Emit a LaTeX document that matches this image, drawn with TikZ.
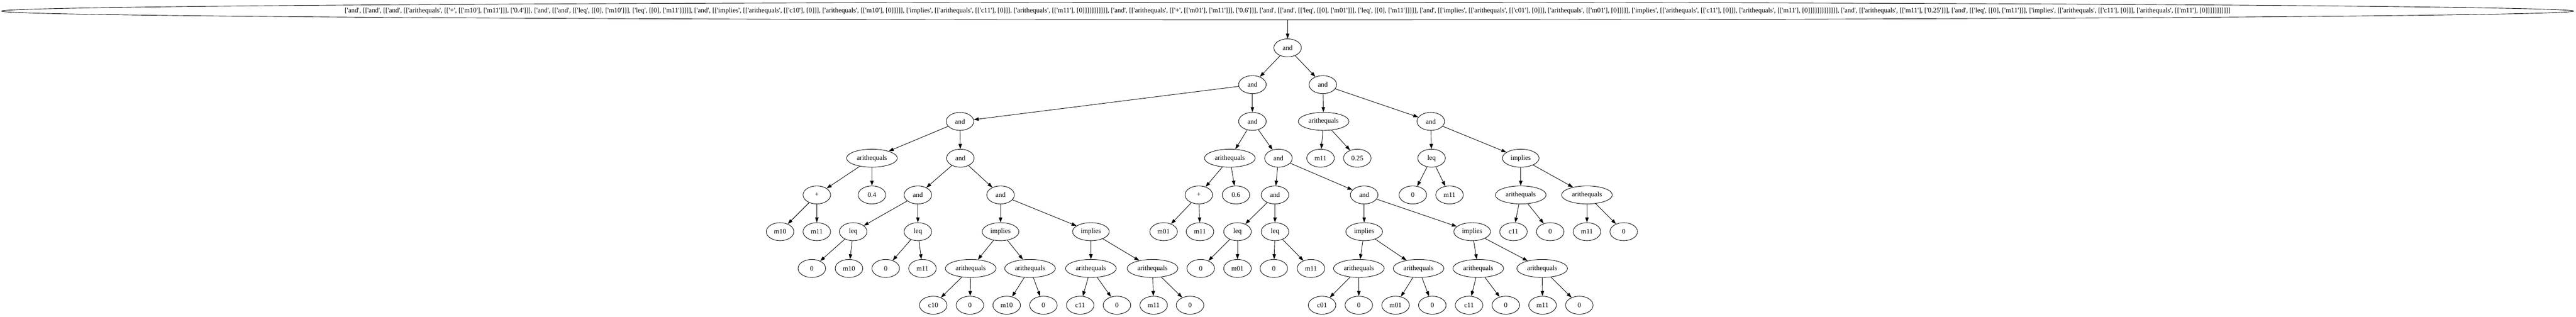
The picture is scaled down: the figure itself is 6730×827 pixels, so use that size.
\documentclass[tikz,border=0pt]{standalone}
\usepackage{fontspec}
\setmainfont{Liberation Serif}
\usetikzlibrary{shapes.geometric,arrows.meta}
\newcommand\q{\XeTeXglyph\XeTeXcharglyph"27\relax}
\newcommand\toptext{[\q and\q, [[\q and\q, [[\q and\q, [[\q arithequals\q, [[\q +\q, [[\q m10\q], [\q m11\q]]], [\q 0.4\q]]], [\q and\q, [[\q and\q, [[\q leq\q, [[0], [\q m10\q]]], [\q leq\q, [[0], [\q m11\q]]]]], [\q and\q, [[\q implies\q, [[\q arithequals\q, [[\q c10\q], [0]]], [\q arithequals\q, [[\q m10\q], [0]]]]], [\q implies\q, [[\q arithequals\q, [[\q c11\q], [0]]], [\q arithequals\q, [[\q m11\q], [0]]]]]]]]]]], [\q and\q, [[\q arithequals\q, [[\q +\q, [[\q m01\q], [\q m11\q]]], [\q 0.6\q]]], [\q and\q, [[\q and\q, [[\q leq\q, [[0], [\q m01\q]]], [\q leq\q, [[0], [\q m11\q]]]]], [\q and\q, [[\q implies\q, [[\q arithequals\q, [[\q c01\q], [0]]], [\q arithequals\q, [[\q m01\q], [0]]]]], [\q implies\q, [[\q arithequals\q, [[\q c11\q], [0]]], [\q arithequals\q, [[\q m11\q], [0]]]]]]]]]]]]], [\q and\q, [[\q arithequals\q, [[\q m11\q], [\q 0.25\q]]], [\q and\q, [[\q leq\q, [[0], [\q m11\q]]], [\q implies\q, [[\q arithequals\q, [[\q c11\q], [0]]], [\q arithequals\q, [[\q m11\q], [0]]]]]]]]]]]}
\begin{document}
\begin{tikzpicture}[x=1bp,y=-1bp,
  gv/.style={ellipse,draw,line width=1.2bp,minimum width=72bp,minimum height=47bp,
    inner xsep=7.5bp,inner ysep=2bp,font=\fontsize{18}{21}\selectfont},
  edge/.style={line width=1.2bp,-{Triangle[length=13bp,width=9bp]}}]
\useasboundingbox (0,0) rectangle (6730,827);
\fill[white] (0,0) rectangle (6730,827);
\node[ellipse,draw,line width=1.2bp,minimum width=6720bp,minimum height=46bp,inner sep=0pt,
  font=\fontsize{18}{21}\selectfont] (top) at (3364,29) {\makebox[0pt]{\toptext}};
% level 1-4
\node[gv] (r) at (3364,125) {and};
\node[gv] (l2a) at (3272,221) {and};
\node[gv] (l2b) at (3456,221) {and};
\node[gv] (l3a) at (2508,317) {and};
\node[gv] (l3b) at (3272,317) {and};
\node[gv] (l3c) at (3458,317) {arithequals};
\node[gv] (l3d) at (3738,317) {and};
\node[gv] (l4a) at (2278,413) {arithequals};
\node[gv] (l4b) at (2509,413) {and};
\node[gv] (l4c) at (3213,413) {arithequals};
\node[gv] (l4d) at (3340,413) {and};
\node[gv] (l4e) at (3450,413) {m11};
\node[gv] (l4f) at (3546,413) {0.25};
\node[gv] (l4g) at (3740,413) {leq};
\node[gv] (l4h) at (3973,413) {implies};
% level 5
\node[gv] (l5a) at (2134,509) {+};
\node[gv] (l5b) at (2278,509) {0.4};
\node[gv] (l5c) at (2398,509) {and};
\node[gv] (l5d) at (2614,509) {and};
\node[gv] (l5e) at (3132,509) {+};
\node[gv] (l5f) at (3229,509) {0.6};
\node[gv] (l5g) at (3331,509) {and};
\node[gv] (l5h) at (3564,509) {and};
\node[gv] (l5i) at (3691,509) {0};
\node[gv] (l5j) at (3787,509) {m11};
\node[gv] (l5k) at (3973,509) {arithequals};
\node[gv] (l5l) at (4146,509) {arithequals};
% level 6
\node[gv] (l6a) at (2038,605) {m10};
\node[gv] (l6b) at (2134,605) {m11};
\node[gv] (l6c) at (2229,605) {leq};
\node[gv] (l6d) at (2398,605) {leq};
\node[gv] (l6e) at (2614,605) {implies};
\node[gv] (l6f) at (2850,605) {implies};
\node[gv] (l6g) at (3040,605) {m01};
\node[gv] (l6h) at (3135,605) {m11};
\node[gv] (l6i) at (3233,605) {leq};
\node[gv] (l6j) at (3331,605) {leq};
\node[gv] (l6k) at (3564,605) {implies};
\node[gv] (l6l) at (3846,605) {implies};
\node[gv] (l6m) at (3954,605) {c11};
\node[gv] (l6n) at (4050,605) {0};
\node[gv] (l6o) at (4146,605) {m11};
\node[gv] (l6p) at (4242,605) {0};
% level 7
\node[gv] (l7a) at (2121,701) {0};
\node[gv] (l7b) at (2218,701) {m10};
\node[gv] (l7c) at (2314,701) {0};
\node[gv] (l7d) at (2410,701) {m11};
\node[gv] (l7e) at (2536,701) {arithequals};
\node[gv] (l7f) at (2691,701) {arithequals};
\node[gv] (l7g) at (2850,701) {arithequals};
\node[gv] (l7h) at (3011,701) {arithequals};
\node[gv] (l7i) at (3137,701) {0};
\node[gv] (l7j) at (3233,701) {m01};
\node[gv] (l7k) at (3328,701) {0};
\node[gv] (l7l) at (3425,701) {m11};
\node[gv] (l7m) at (3550,701) {arithequals};
\node[gv] (l7n) at (3706,701) {arithequals};
\node[gv] (l7o) at (3862,701) {arithequals};
\node[gv] (l7p) at (4029,701) {arithequals};
% level 8
\node[gv] (l8a) at (2438,797) {c10};
\node[gv] (l8b) at (2534,797) {0};
\node[gv] (l8c) at (2630,797) {m10};
\node[gv] (l8d) at (2726,797) {0};
\node[gv] (l8e) at (2822,797) {c11};
\node[gv] (l8f) at (2918,797) {0};
\node[gv] (l8g) at (3014,797) {m11};
\node[gv] (l8h) at (3109,797) {0};
\node[gv] (l8i) at (3454,797) {c01};
\node[gv] (l8j) at (3550,797) {0};
\node[gv] (l8k) at (3646,797) {m01};
\node[gv] (l8l) at (3742,797) {0};
\node[gv] (l8m) at (3838,797) {c11};
\node[gv] (l8n) at (3934,797) {0};
\node[gv] (l8o) at (4030,797) {m11};
\node[gv] (l8p) at (4126,797) {0};
\foreach \u/\v in {top/r, r/l2a, r/l2b,
  l2a/l3a, l2a/l3b, l2b/l3c, l2b/l3d,
  l3a/l4a, l3a/l4b, l3b/l4c, l3b/l4d, l3c/l4e, l3c/l4f, l3d/l4g, l3d/l4h,
  l4a/l5a, l4a/l5b, l4b/l5c, l4b/l5d, l4c/l5e, l4c/l5f, l4d/l5g, l4d/l5h, l4g/l5i, l4g/l5j, l4h/l5k, l4h/l5l,
  l5a/l6a, l5a/l6b, l5c/l6c, l5c/l6d, l5d/l6e, l5d/l6f, l5e/l6g, l5e/l6h, l5g/l6i, l5g/l6j, l5h/l6k, l5h/l6l, l5k/l6m, l5k/l6n, l5l/l6o, l5l/l6p,
  l6c/l7a, l6c/l7b, l6d/l7c, l6d/l7d, l6e/l7e, l6e/l7f, l6f/l7g, l6f/l7h, l6i/l7i, l6i/l7j, l6j/l7k, l6j/l7l, l6k/l7m, l6k/l7n, l6l/l7o, l6l/l7p,
  l7e/l8a, l7e/l8b, l7f/l8c, l7f/l8d, l7g/l8e, l7g/l8f, l7h/l8g, l7h/l8h, l7m/l8i, l7m/l8j, l7n/l8k, l7n/l8l, l7o/l8m, l7o/l8n, l7p/l8o, l7p/l8p}
  \draw[edge] (\u) -- (\v);
\end{tikzpicture}
\end{document}
